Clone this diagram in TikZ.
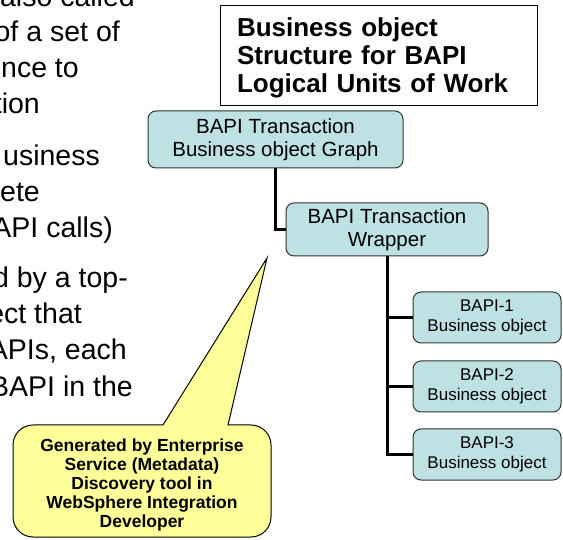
\documentclass[tikz,border=0pt]{standalone}
\usepackage{fontspec}
\setmainfont{Liberation Sans}
\definecolor{nodefill}{RGB}{190,225,228}
\definecolor{calloutfill}{RGB}{255,255,153}
\definecolor{nodeline}{RGB}{50,50,50}
\begin{document}
\begin{tikzpicture}[x=1pt,y=-1pt,
  bapibox/.style={draw=nodeline, line width=1pt, fill=nodefill, rounded corners=8pt, align=center, inner sep=0pt},
  bigfont/.style={font=\fontsize{20.5}{23}\selectfont},
  leaffont/.style={font=\fontsize{17}{20}\selectfont},
  leafbox/.style={bapibox, leaffont, minimum width=148pt, minimum height=51pt},
  conn/.style={line width=3pt},
  lefttext/.style={anchor=base east, inner sep=0pt, font=\fontsize{28.5}{34}\selectfont},
]
\useasboundingbox (0,0) rectangle (563,540);
\clip (0,0) rectangle (563,540);

% left bullet text (cut off at the left edge, as in the reference)
\node[lefttext] (t1) at (135,7) {also called};
\node[lefttext] (t2) at (120,42) {of a set of};
\node[lefttext] (t3) at (79,78) {nce to};
\node[lefttext] (t4) at (40,114) {tion};
\node[lefttext] (t5) at (100,166) {usiness};
\node[lefttext] (t6) at (40,202) {ete};
\node[lefttext] (t7) at (113,238) {API calls)};
\node[lefttext] (t8) at (128,288) {d by a top-};
\node[lefttext] (t9) at (82,324) {ect that};
\node[lefttext] (t10) at (127,360) {APIs, each};
\node[lefttext] (t11) at (133,396) {BAPI in the};

% title box
\node[draw, line width=1pt, minimum width=317pt, minimum height=100pt, text width=283pt,
      align=left, inner sep=0pt, font=\bfseries\fontsize{26}{28}\selectfont]
  (title) at (378.5,56) {};
\node[text width=283pt, align=left, inner sep=0pt, font=\bfseries\fontsize{26}{28}\selectfont]
  (titletext) at (378.5,58) {Business object\\Structure for BAPI\\Logical Units of Work};

% tree nodes
\node[bapibox, bigfont, minimum width=255pt, minimum height=57pt] (graph) at (275.5,139.5)
  {BAPI Transaction\\Business object Graph};
\node[bapibox, bigfont, minimum width=202pt, minimum height=53pt] (wrapper) at (387,229.5)
  {BAPI Transaction\\Wrapper};
\node[leafbox] (bapi1) at (487,317.5) {BAPI-1\\Business object};
\node[leafbox] (bapi2) at (487,386.5) {BAPI-2\\Business object};
\node[leafbox] (bapi3) at (487,454.5) {BAPI-3\\Business object};

% connectors
\draw[conn] (graph.south) |- (wrapper.west);
\draw[conn] (wrapper.south) |- (bapi1.west);
\draw[conn] (wrapper.south) |- (bapi2.west);
\draw[conn] (wrapper.south) |- (bapi3.west);

% callout
\coordinate (tip) at (267,258);
\draw[line width=1pt, fill=calloutfill]
  (163,425) -- (tip) -- (228,425) -- (251,425)
  .. controls (262,425) and (271,434) .. (271,445) -- (271,517)
  .. controls (271,528) and (262,537) .. (251,537) -- (33,537)
  .. controls (22,537) and (13,528) .. (13,517) -- (13,445)
  .. controls (13,434) and (22,425) .. (33,425) -- cycle;
\node[align=center, inner sep=0pt, font=\bfseries\fontsize{17.5}{19}\selectfont] (note) at (142,485)
  {Generated by Enterprise\\Service (Metadata)\\Discovery tool in\\WebSphere Integration\\Developer};
\end{tikzpicture}
\end{document}
